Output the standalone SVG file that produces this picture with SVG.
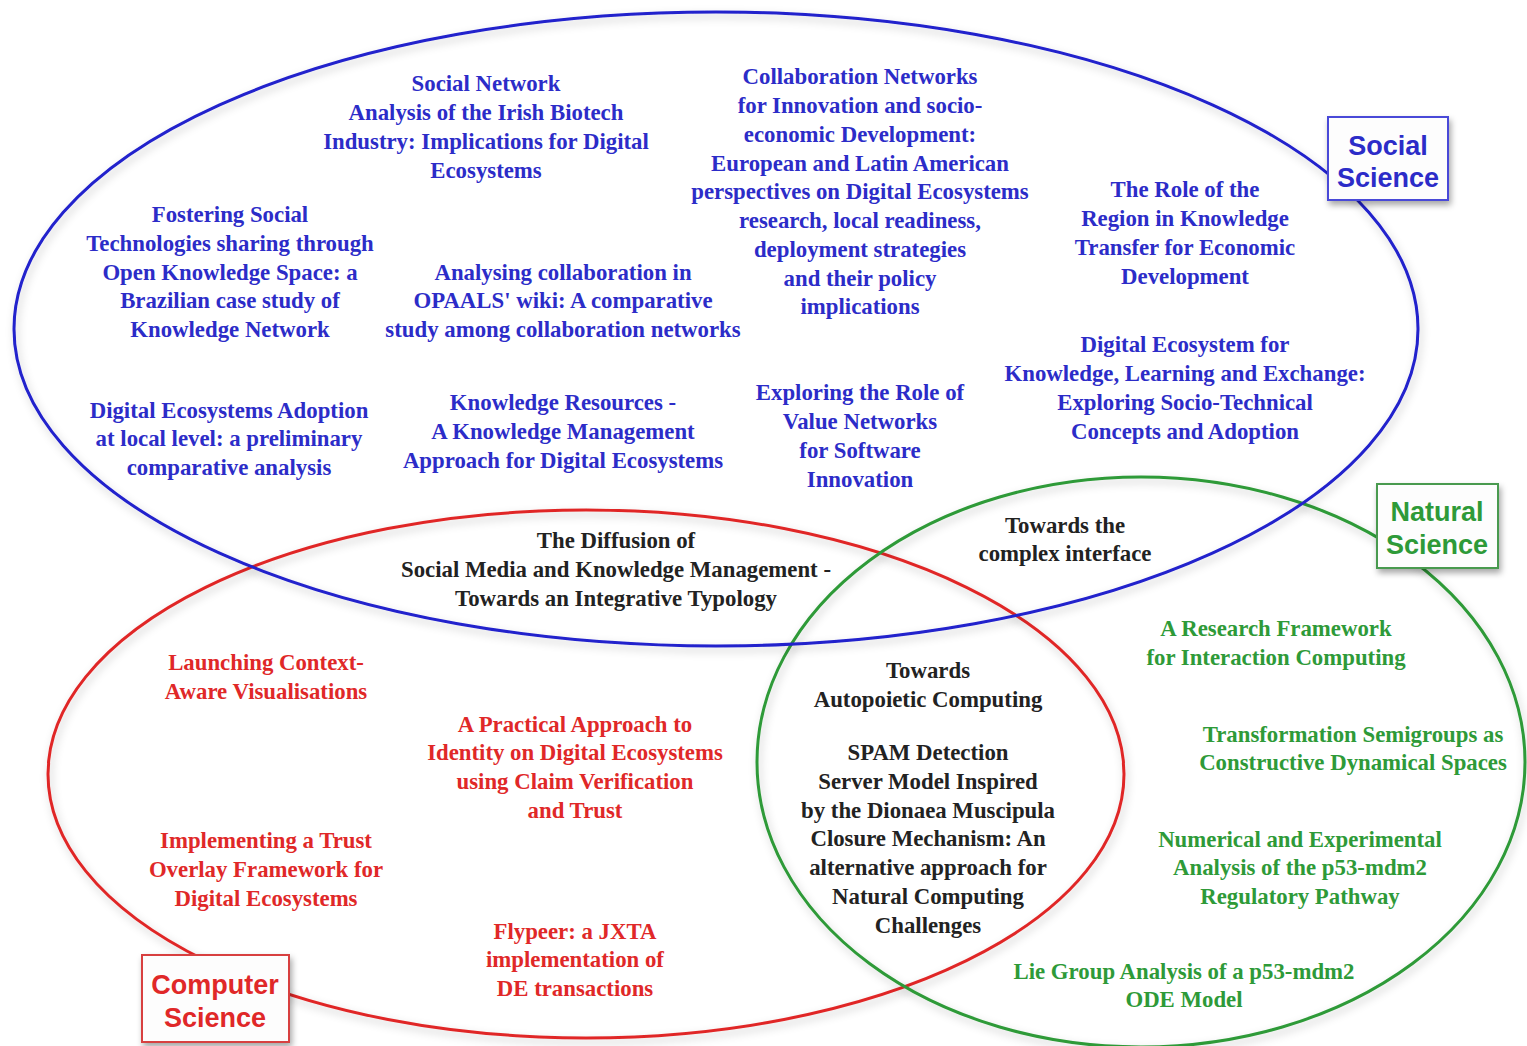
<svg xmlns="http://www.w3.org/2000/svg" width="1527" height="1046" viewBox="0 0 1527 1046">
<defs>
<filter id="soft" x="-10%" y="-10%" width="120%" height="120%">
<feDropShadow dx="2" dy="4" stdDeviation="4" flood-color="#000" flood-opacity="0.22"/>
</filter>
<filter id="boxsh" x="-20%" y="-20%" width="140%" height="150%">
<feDropShadow dx="2" dy="4" stdDeviation="3" flood-color="#000" flood-opacity="0.35"/>
</filter>
</defs>
<style>
.t{font-family:"Liberation Serif","Times New Roman",serif;font-weight:bold;font-size:22.8px;text-anchor:middle}
.b{fill:#2c2cc8}.k{fill:#222}.r{fill:#e02828}.g{fill:#2e9a38}
.set{fill:none;stroke-width:3;filter:url(#soft)}
.lbl{font-family:"Liberation Sans",Arial,sans-serif;font-weight:bold;font-size:27px;text-anchor:middle}
.box{fill:#fdfdfd;stroke-width:2;filter:url(#boxsh)}
</style>
<rect width="1527" height="1046" fill="#fff"/>
<g id="sets">
<ellipse id="set-computer" class="set" cx="586" cy="774" rx="538" ry="264" stroke="#e02828"/>
<ellipse id="set-natural" class="set" cx="1141" cy="762" rx="384" ry="285" stroke="#2e9a38"/>
<ellipse id="set-social" class="set" cx="716" cy="329" rx="702" ry="317" stroke="#2020cc"/>
</g>
<g id="connectors"></g>
<g id="label-social">
<rect class="box" x="1328" y="117" width="120" height="83" stroke="#4a4ad8"/>
<text class="lbl b" x="1388" y="155">Social</text>
<text class="lbl b" x="1388" y="187">Science</text>
</g>
<g id="label-natural">
<rect class="box" x="1377" y="484" width="121" height="84" stroke="#4a9a50"/>
<text class="lbl g" x="1437" y="521">Natural</text>
<text class="lbl g" x="1437" y="554">Science</text>
</g>
<g id="label-computer">
<rect class="box" x="142" y="955" width="147" height="87" stroke="#d84040"/>
<text class="lbl r" x="215" y="994">Computer</text>
<text class="lbl r" x="215" y="1027">Science</text>
</g>
<g id="n1" class="t b">
<text x="486" y="91">Social Network</text>
<text x="486" y="120">Analysis of the Irish Biotech</text>
<text x="486" y="149">Industry: Implications for Digital</text>
<text x="486" y="178">Ecosystems</text>
</g>
<g id="n2" class="t b">
<text x="860" y="84">Collaboration Networks</text>
<text x="860" y="113">for Innovation and socio-</text>
<text x="860" y="142">economic Development:</text>
<text x="860" y="171">European and Latin American</text>
<text x="860" y="199">perspectives on Digital Ecosystems</text>
<text x="860" y="228">research, local readiness,</text>
<text x="860" y="257">deployment strategies</text>
<text x="860" y="286">and their policy</text>
<text x="860" y="314">implications</text>
</g>
<g id="n3" class="t b">
<text x="230" y="222">Fostering Social</text>
<text x="230" y="251">Technologies sharing through</text>
<text x="230" y="280">Open Knowledge Space: a</text>
<text x="230" y="308">Brazilian case study of</text>
<text x="230" y="337">Knowledge Network</text>
</g>
<g id="n4" class="t b">
<text x="563" y="280">Analysing collaboration in</text>
<text x="563" y="308">OPAALS' wiki: A comparative</text>
<text x="563" y="337">study among collaboration networks</text>
</g>
<g id="n5" class="t b">
<text x="1185" y="197">The Role of the</text>
<text x="1185" y="226">Region in Knowledge</text>
<text x="1185" y="255">Transfer for Economic</text>
<text x="1185" y="284">Development</text>
</g>
<g id="n6" class="t b">
<text x="1185" y="352">Digital Ecosystem for</text>
<text x="1185" y="381">Knowledge, Learning and Exchange:</text>
<text x="1185" y="410">Exploring Socio-Technical</text>
<text x="1185" y="439">Concepts and Adoption</text>
</g>
<g id="n7" class="t b">
<text x="229" y="418">Digital Ecosystems Adoption</text>
<text x="229" y="446">at local level: a preliminary</text>
<text x="229" y="475">comparative analysis</text>
</g>
<g id="n8" class="t b">
<text x="563" y="410">Knowledge Resources -</text>
<text x="563" y="439">A Knowledge Management</text>
<text x="563" y="468">Approach for Digital Ecosystems</text>
</g>
<g id="n9" class="t b">
<text x="860" y="400">Exploring the Role of</text>
<text x="860" y="429">Value Networks</text>
<text x="860" y="458">for Software</text>
<text x="860" y="487">Innovation</text>
</g>
<g id="n10" class="t k">
<text x="616" y="548">The Diffusion of</text>
<text x="616" y="577">Social Media and Knowledge Management -</text>
<text x="616" y="606">Towards an Integrative Typology</text>
</g>
<g id="n11" class="t k">
<text x="1065" y="533">Towards the</text>
<text x="1065" y="561">complex interface</text>
</g>
<g id="n12" class="t k">
<text x="928" y="678">Towards</text>
<text x="928" y="707">Autopoietic Computing</text>
</g>
<g id="n13" class="t k">
<text x="928" y="760">SPAM Detection</text>
<text x="928" y="789">Server Model Inspired</text>
<text x="928" y="818">by the Dionaea Muscipula</text>
<text x="928" y="846">Closure Mechanism: An</text>
<text x="928" y="875">alternative approach for</text>
<text x="928" y="904">Natural Computing</text>
<text x="928" y="933">Challenges</text>
</g>
<g id="n14" class="t r">
<text x="266" y="670">Launching Context-</text>
<text x="266" y="699">Aware Visualisations</text>
</g>
<g id="n15" class="t r">
<text x="575" y="732">A Practical Approach to</text>
<text x="575" y="760">Identity on Digital Ecosystems</text>
<text x="575" y="789">using Claim Verification</text>
<text x="575" y="818">and Trust</text>
</g>
<g id="n16" class="t r">
<text x="266" y="848">Implementing a Trust</text>
<text x="266" y="877">Overlay Framework for</text>
<text x="266" y="906">Digital Ecosystems</text>
</g>
<g id="n17" class="t r">
<text x="575" y="939">Flypeer: a JXTA</text>
<text x="575" y="967">implementation of</text>
<text x="575" y="996">DE transactions</text>
</g>
<g id="n18" class="t g">
<text x="1276" y="636">A Research Framework</text>
<text x="1276" y="665">for Interaction Computing</text>
</g>
<g id="n19" class="t g">
<text x="1353" y="742">Transformation Semigroups as</text>
<text x="1353" y="770">Constructive Dynamical Spaces</text>
</g>
<g id="n20" class="t g">
<text x="1300" y="847">Numerical and Experimental</text>
<text x="1300" y="875">Analysis of the p53-mdm2</text>
<text x="1300" y="904">Regulatory Pathway</text>
</g>
<g id="n21" class="t g">
<text x="1184" y="979">Lie Group Analysis of a p53-mdm2</text>
<text x="1184" y="1007">ODE Model</text>
</g>
</svg>
